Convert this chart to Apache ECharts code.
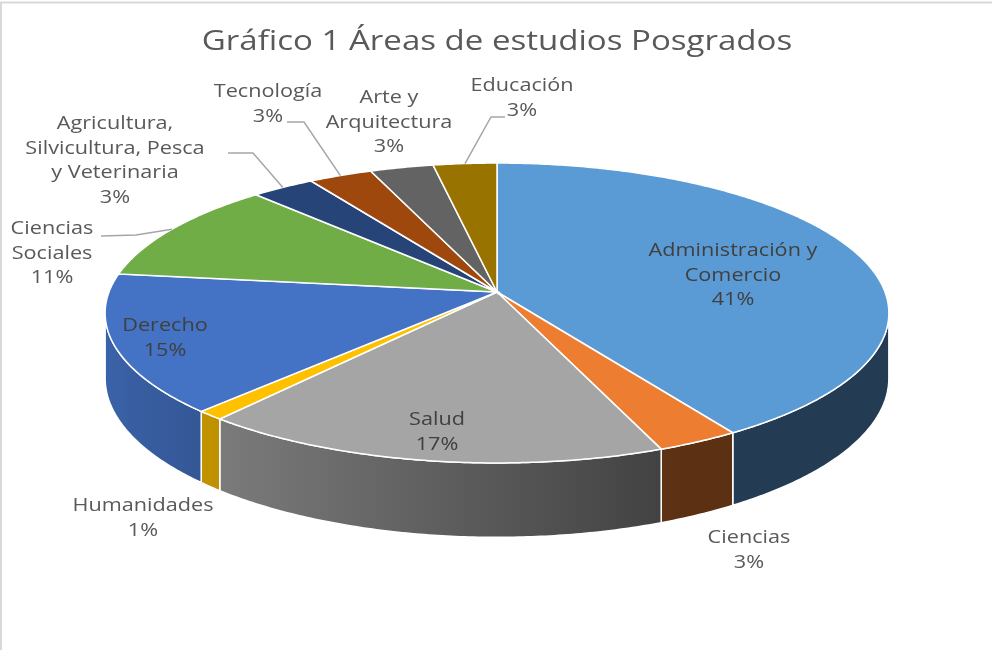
<!DOCTYPE html>
<html>
<head>
<meta charset="utf-8">
<script src="https://cdn.jsdelivr.net/npm/echarts@6/dist/echarts.min.js"></script>
<style>
  html, body { margin: 0; padding: 0; background: #fff; }
  #chart { width: 992px; height: 650px; }
</style>
</head>
<body>
<div id="chart"></div>
<script>
// datos del gráfico
const categories = ['Administración y Comercio', 'Ciencias', 'Salud', 'Humanidades', 'Derecho',
  'Ciencias Sociales', 'Agricultura, Silvicultura, Pesca y Veterinaria', 'Tecnología',
  'Arte y Arquitectura', 'Educación']
const values = [41, 3, 17, 1, 15, 11, 3, 3, 3, 3]
const labelNames = ['Administración y\nComercio', 'Ciencias', 'Salud', 'Humanidades', 'Derecho',
  'Ciencias\nSociales', 'Agricultura,\nSilvicultura, Pesca\ny Veterinaria', 'Tecnología',
  'Arte y\nArquitectura', 'Educación']
const colors = ['#5B9BD5', '#ED7D31', '#A5A5A5', '#FFC000', '#4472C4',
  '#70AD47', '#264478', '#9E480E', '#636363', '#997300']

// posición de las etiquetas (centro de la primera línea) y guías
const labelLayout = [
  { x: 733, y: 251, inside: true },
  { x: 749, y: 538 },
  { x: 437, y: 420, inside: true },
  { x: 143, y: 506 },
  { x: 165, y: 326, inside: true },
  { x: 52, y: 229, guide: [[101, 236], [136, 235]] },
  { x: 115, y: 124, guide: [[228, 153], [253, 153]] },
  { x: 268, y: 92, guide: [[287, 122], [304, 122]] },
  { x: 389, y: 98 },
  { x: 522, y: 86, guide: [[505, 117], [491, 117]] }
]

// geometría del pastel 3D (perspectiva simple)
const cx = 497, cy = 292, rx = 388, ry = 147, persp = 0.14, depth = 64
const total = values.reduce((a, b) => a + b, 0)
const startAngles = []
let acc = 0
values.forEach(v => { startAngles.push(-Math.PI / 2 + 2 * Math.PI * acc / total); acc += v })
const endAngle = i => -Math.PI / 2 + 2 * Math.PI * values.slice(0, i + 1).reduce((a, b) => a + b, 0) / total

const proj = (t, drop) => {
  const k = 1 / (1 - persp * Math.sin(t))
  return [cx + rx * Math.cos(t) * k, cy + ry * Math.sin(t) * k + (drop || 0) * k]
}
const arc = (t0, t1, drop) => {
  const pts = []
  const n = Math.max(2, Math.ceil((t1 - t0) / 0.01))
  for (let j = 0; j <= n; j++) pts.push(proj(t0 + (t1 - t0) * j / n, drop))
  return pts
}
const shade = (hex, f) => {
  const n = parseInt(hex.slice(1), 16)
  const c = [(n >> 16) & 255, (n >> 8) & 255, n & 255].map(x => Math.round(x * f))
  return 'rgb(' + c.join(',') + ')'
}
const wallFactor = t => Math.max(0.39, 0.87 - 0.48 * (Math.cos(t) + 1) / 1.4)

const chart = echarts.init(document.getElementById('chart'))

const option = {
  animation: false,
  graphic: [
    {
      type: 'rect',
      shape: { x: 1, y: 2.5, width: 1200, height: 1000 },
      style: { fill: 'none', stroke: '#d9d9d9', lineWidth: 2 },
      silent: true
    },
    {
      // título (el original está estirado en horizontal)
      type: 'text',
      x: 497,
      y: 42,
      scaleX: 1.18,
      style: {
        text: 'Gráfico 1 Áreas de estudios Posgrados',
        align: 'center',
        verticalAlign: 'middle',
        fontFamily: 'Open Sans',
        fontSize: 28,
        fill: '#595959'
      }
    }
  ],
  series: [
    {
      // paredes laterales
      type: 'custom',
      coordinateSystem: 'none',
      z: 1,
      data: values,
      renderItem: (params, api) => {
        const i = params.dataIndex
        const a = Math.asin(persp)
        const t0 = Math.max(startAngles[i], a)
        const t1 = Math.min(endAngle(i), Math.PI - a)
        if (t1 <= t0) return null
        const top = arc(t0, t1, 0)
        const bottom = arc(t0, t1, depth).reverse()
        const xs = top.map(p => p[0])
        const xmin = Math.min(...xs), xmax = Math.max(...xs)
        const stops = []
        for (let j = 0; j <= 6; j++) {
          const t = t0 + (t1 - t0) * j / 6
          const x = proj(t)[0]
          stops.push({ offset: (x - xmin) / Math.max(1, xmax - xmin), color: shade(colors[i], wallFactor(t)) })
        }
        stops.sort((p, q) => p.offset - q.offset)
        return {
          type: 'polygon',
          shape: { points: top.concat(bottom) },
          style: {
            fill: new echarts.graphic.LinearGradient(0, 0, 1, 0, stops),
            stroke: '#fff',
            lineWidth: 1.5
          }
        }
      }
    },
    {
      // caras superiores
      type: 'custom',
      coordinateSystem: 'none',
      z: 2,
      data: values,
      renderItem: (params, api) => {
        const i = params.dataIndex
        const pts = [[cx, cy]].concat(arc(startAngles[i], endAngle(i), 0))
        return {
          type: 'polygon',
          shape: { points: pts },
          style: { fill: colors[i], stroke: '#fff', lineWidth: 1.5 }
        }
      }
    },
    {
      // etiquetas y líneas guía
      type: 'custom',
      coordinateSystem: 'none',
      z: 3,
      data: values,
      renderItem: (params, api) => {
        const i = params.dataIndex
        const lay = labelLayout[i]
        const pct = Math.round(values[i] / total * 100) + '%'
        const children = [{
          type: 'text',
          x: lay.x,
          y: lay.y - 12.5,
          scaleX: 1.14,
          style: {
            text: labelNames[i] + '\n' + pct,
            align: 'center',
            verticalAlign: 'top',
            lineHeight: 24.5,
            fontFamily: 'Open Sans',
            fontSize: 19,
            fill: lay.inside ? '#404040' : '#595959'
          }
        }]
        if (lay.guide) {
          const mid = (startAngles[i] + endAngle(i)) / 2
          children.push({
            type: 'polyline',
            shape: { points: lay.guide.concat([proj(mid)]) },
            style: { stroke: '#a6a6a6', lineWidth: 1.5, fill: 'none' }
          })
        }
        return { type: 'group', children }
      }
    }
  ]
}

chart.setOption(option)
window.addEventListener('resize', () => chart.resize())
</script>
</body>
</html>
